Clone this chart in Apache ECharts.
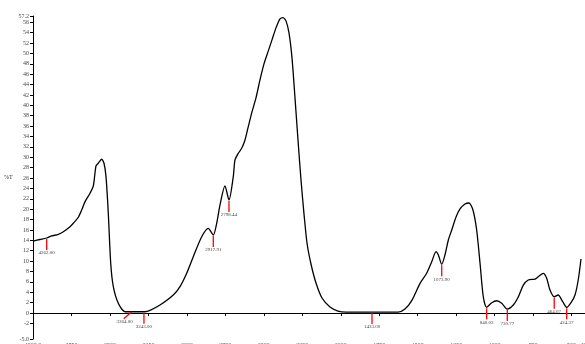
<!DOCTYPE html>
<html>
<head>
<meta charset="utf-8">
<script src="https://cdn.jsdelivr.net/npm/echarts@6/dist/echarts.min.js"></script>
<style>html,body{margin:0;padding:0;background:#fff}#c{width:585px;height:344px}</style>
</head>
<body>
<div id="c"></div>
<script>
// Spectrum (wavenumber, %T)
const wavenumber = [3998,3954.5,3911,3878.5,3835.6,3803,3759.6,3738,3705.6,3683.5,3662,3629.6,3608,3590.6,3575.7,3553.6,3538.6,3525.6,3510.7,3495,3478,3445.7,3402,3358.6,3272,3239.7,3174.8,3088.3,3044.8,3001.3,2958.4,2903.8,2860.9,2828.4,2806.3,2784.9,2752.4,2726.4,2698.5,2687.4,2666,2643.9,2622.4,2603,2577,2551,2525,2499,2473,2447,2421,2395,2375.5,2356,2336.5,2317,2297.5,2278,2258.5,2239,2219.5,2193.6,2161,2122,2070,2018,1966,1797,1628,1583,1537,1485,1442,1409,1381,1366,1344,1323,1301,1279,1251,1225,1193,1167,1141,1117,1095,1074,1052,1019,987,954,918,879,846,814,781.5,738,716.5,684,662,640.5,613,587,558,532,500,478,457,439];
const transmittance = [13.87,14.16,14.45,14.84,15.16,15.66,16.63,17.28,18.44,19.85,21.45,23.06,24.47,28.32,28.84,29.61,28.84,26.26,19.21,9.58,5.07,1.87,0.25,0.25,0.25,0.52,1.54,3.47,5.07,7.65,10.85,14.70,16.32,15.03,17.28,20.81,24.47,21.77,26.26,29.48,30.77,31.73,33.33,35.65,38.73,41.43,44.89,47.98,50.29,52.6,54.91,56.65,56.9,56.26,53.95,49.13,41.43,33.33,25.63,19.08,13.49,9.44,5.78,2.89,1.16,0.39,0.19,0.19,0.19,0.77,2.5,5.72,7.65,9.88,11.81,11.18,9.38,11.18,14.07,15.99,18.5,20.04,21.0,21.19,19.85,15.99,9.58,3.14,1.10,1.98,2.37,1.87,0.77,1.54,3.14,5.39,6.36,6.55,6.99,7.65,6.69,4.43,3.14,3.47,2.18,1.10,2.18,3.47,6.36,10.4];

// Peak picks
const peakLabels = ["4262.00","3364.00","3243.00","2917.91","2798.44","1433.00","1073.90","840.03","730.77","464.07","424.37"];
const peakX = [3911,3358.6,3279,2828.4,2726.4,1797,1344,1052,918,613,532];
const peakY = [14.45,0.25,0.25,15.03,21.77,0.19,9.38,1.10,0.77,3.14,1.10];

// Axis ticks
const xTicks = [4000,3750,3500,3250,3000,2750,2500,2250,2000,1750,1500,1250,1000,750,500,400];
const yTicks = [-5,-2,0,2,4,6,8,10,12,14,16,18,20,22,24,26,28,30,32,34,36,38,40,42,44,46,48,50,52,54,56,57.2];

const chart = echarts.init(document.getElementById('c'), null, {renderer:'canvas'});
const font = 'Liberation Serif';
chart.setOption({
  animation:false,
  grid:{left:33, top:16, width:554, height:323, outerBoundsMode:'none', containLabel:false},
  xAxis:{
    type:'value', min:400, max:4000, inverse:true,
    axisLine:{lineStyle:{color:'#000', width:1}},
    axisTick:{customValues:xTicks, length:3, lineStyle:{color:'#000'}},
    axisLabel:{customValues:xTicks, fontFamily:font, fontSize:6, color:'#555', margin:3,
      formatter:v => (v===4000||v===400) ? v.toFixed(1) : String(v)},
    splitLine:{show:false}
  },
  yAxis:{
    type:'value', min:-5, max:57.2,
    name:'%T', nameLocation:'middle', nameRotate:0, nameGap:19,
    nameTextStyle:{fontFamily:font, fontSize:6, color:'#333', padding:[16,0,0,0]},
    axisLine:{show:true, lineStyle:{color:'#000', width:1}},
    axisTick:{show:true, customValues:yTicks, length:3, lineStyle:{color:'#000'}},
    axisLabel:{customValues:yTicks, fontFamily:font, fontSize:6, color:'#444', margin:4,
      formatter:v => (v===-5||v===57.2) ? v.toFixed(1) : String(v)},
    splitLine:{show:false}
  },
  series:[
    {
      type:'line',
      data:wavenumber.map((w,i)=>[w,transmittance[i]]),
      showSymbol:false, smooth:0.25,
      lineStyle:{color:'#000', width:1.3},
      z:3
    },
    {
      type:'custom',
      clip:false,
      data:peakX.map((x,i)=>[x,peakY[i],i]),
      renderItem:(params, api)=>{
        const p = api.coord([api.value(0), api.value(1)]);
        const i = api.value(2);
        const diag = (i===1);
        const end = diag ? [p[0]-8, p[1]+7] : [p[0], p[1]+12];
        const tpos = diag ? [p[0]-7, p[1]+10] : [p[0], p[1]+15];
        return {type:'group', children:[
          {type:'line', shape:{x1:p[0], y1:p[1]+(diag?0:1), x2:end[0], y2:end[1]},
           style:{stroke:'#ff0000', lineWidth:1.3}},
          {type:'text', x:tpos[0], y:tpos[1],
           style:{text:peakLabels[i], fill:'#444', font:'5px "Liberation Serif"', align:'center', verticalAlign:'middle'}}
        ]};
      },
      z:4
    }
  ]
});
</script>
</body>
</html>
